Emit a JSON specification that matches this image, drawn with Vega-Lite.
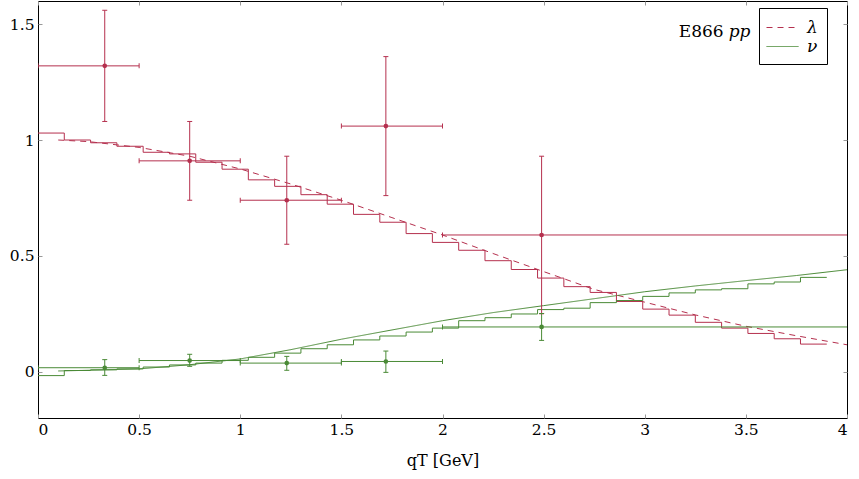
{
  "$schema": "https://vega.github.io/schema/vega-lite/v6.json",
  "width": 809,
  "height": 417,
  "autosize": {"type": "none"},
  "padding": {"left": 38, "top": 1, "right": 12, "bottom": 61},
  "config": {
    "view": {"stroke": "#000", "strokeWidth": 1},
    "font": "DejaVu Serif",
    "axis": {"grid": false, "domain": false, "tickColor": "#999", "tickSize": -4, "labelFont": "DejaVu Serif", "labelFontSize": 15.5, "labelColor": "#000", "titleFont": "DejaVu Serif", "titleFontSize": 16, "titleColor": "#000", "titleFontWeight": "normal"}
  },
  "datasets": {
    "hist": [
      {"series": "λ", "x": 0.00, "y": 1.030}, {"series": "λ", "x": 0.13, "y": 1.000}, {"series": "λ", "x": 0.26, "y": 0.988}, {"series": "λ", "x": 0.39, "y": 0.973}, {"series": "λ", "x": 0.52, "y": 0.947}, {"series": "λ", "x": 0.65, "y": 0.940}, {"series": "λ", "x": 0.78, "y": 0.904}, {"series": "λ", "x": 0.91, "y": 0.874}, {"series": "λ", "x": 1.04, "y": 0.828}, {"series": "λ", "x": 1.17, "y": 0.800}, {"series": "λ", "x": 1.30, "y": 0.764}, {"series": "λ", "x": 1.43, "y": 0.723}, {"series": "λ", "x": 1.56, "y": 0.679}, {"series": "λ", "x": 1.69, "y": 0.645}, {"series": "λ", "x": 1.82, "y": 0.596}, {"series": "λ", "x": 1.95, "y": 0.558}, {"series": "λ", "x": 2.08, "y": 0.524}, {"series": "λ", "x": 2.21, "y": 0.479}, {"series": "λ", "x": 2.34, "y": 0.441}, {"series": "λ", "x": 2.47, "y": 0.404}, {"series": "λ", "x": 2.60, "y": 0.367}, {"series": "λ", "x": 2.73, "y": 0.342}, {"series": "λ", "x": 2.86, "y": 0.303}, {"series": "λ", "x": 2.99, "y": 0.270}, {"series": "λ", "x": 3.12, "y": 0.244}, {"series": "λ", "x": 3.25, "y": 0.213}, {"series": "λ", "x": 3.38, "y": 0.188}, {"series": "λ", "x": 3.51, "y": 0.165}, {"series": "λ", "x": 3.64, "y": 0.142}, {"series": "λ", "x": 3.77, "y": 0.119}, {"series": "λ", "x": 3.90, "y": 0.119},
      {"series": "ν", "x": 0.00, "y": -0.017}, {"series": "ν", "x": 0.13, "y": 0.005}, {"series": "ν", "x": 0.26, "y": 0.008}, {"series": "ν", "x": 0.39, "y": 0.012}, {"series": "ν", "x": 0.52, "y": 0.020}, {"series": "ν", "x": 0.65, "y": 0.029}, {"series": "ν", "x": 0.78, "y": 0.037}, {"series": "ν", "x": 0.91, "y": 0.049}, {"series": "ν", "x": 1.04, "y": 0.062}, {"series": "ν", "x": 1.17, "y": 0.080}, {"series": "ν", "x": 1.30, "y": 0.099}, {"series": "ν", "x": 1.43, "y": 0.116}, {"series": "ν", "x": 1.56, "y": 0.137}, {"series": "ν", "x": 1.69, "y": 0.154}, {"series": "ν", "x": 1.82, "y": 0.171}, {"series": "ν", "x": 1.95, "y": 0.188}, {"series": "ν", "x": 2.08, "y": 0.220}, {"series": "ν", "x": 2.21, "y": 0.233}, {"series": "ν", "x": 2.34, "y": 0.249}, {"series": "ν", "x": 2.47, "y": 0.268}, {"series": "ν", "x": 2.60, "y": 0.274}, {"series": "ν", "x": 2.73, "y": 0.298}, {"series": "ν", "x": 2.86, "y": 0.307}, {"series": "ν", "x": 2.99, "y": 0.325}, {"series": "ν", "x": 3.12, "y": 0.340}, {"series": "ν", "x": 3.25, "y": 0.353}, {"series": "ν", "x": 3.38, "y": 0.358}, {"series": "ν", "x": 3.51, "y": 0.379}, {"series": "ν", "x": 3.64, "y": 0.387}, {"series": "ν", "x": 3.77, "y": 0.407}, {"series": "ν", "x": 3.90, "y": 0.407}
    ],
    "curves": [
      {"series": "λ", "x": 0.10, "y": 1.000}, {"series": "λ", "x": 0.25, "y": 0.993}, {"series": "λ", "x": 0.50, "y": 0.968}, {"series": "λ", "x": 0.75, "y": 0.930}, {"series": "λ", "x": 1.00, "y": 0.875}, {"series": "λ", "x": 1.25, "y": 0.810}, {"series": "λ", "x": 1.50, "y": 0.740}, {"series": "λ", "x": 1.75, "y": 0.665}, {"series": "λ", "x": 2.00, "y": 0.590}, {"series": "λ", "x": 2.25, "y": 0.510}, {"series": "λ", "x": 2.50, "y": 0.432}, {"series": "λ", "x": 2.75, "y": 0.355}, {"series": "λ", "x": 3.00, "y": 0.300}, {"series": "λ", "x": 3.25, "y": 0.245}, {"series": "λ", "x": 3.50, "y": 0.196}, {"series": "λ", "x": 3.75, "y": 0.155}, {"series": "λ", "x": 4.00, "y": 0.116},
      {"series": "ν", "x": 0.10, "y": 0.003}, {"series": "ν", "x": 0.25, "y": 0.006}, {"series": "ν", "x": 0.50, "y": 0.012}, {"series": "ν", "x": 0.75, "y": 0.030}, {"series": "ν", "x": 1.00, "y": 0.055}, {"series": "ν", "x": 1.25, "y": 0.095}, {"series": "ν", "x": 1.50, "y": 0.140}, {"series": "ν", "x": 1.75, "y": 0.180}, {"series": "ν", "x": 2.00, "y": 0.220}, {"series": "ν", "x": 2.25, "y": 0.255}, {"series": "ν", "x": 2.50, "y": 0.285}, {"series": "ν", "x": 2.75, "y": 0.315}, {"series": "ν", "x": 3.00, "y": 0.345}, {"series": "ν", "x": 3.25, "y": 0.370}, {"series": "ν", "x": 3.50, "y": 0.393}, {"series": "ν", "x": 3.75, "y": 0.415}, {"series": "ν", "x": 4.00, "y": 0.440}
    ],
    "points": [
      {"series": "λ", "x": 0.33, "y": 1.32, "xlo": 0.0, "xhi": 0.5, "ylo": 1.08, "yhi": 1.56},
      {"series": "λ", "x": 0.75, "y": 0.91, "xlo": 0.5, "xhi": 1.0, "ylo": 0.74, "yhi": 1.08},
      {"series": "λ", "x": 1.23, "y": 0.74, "xlo": 1.0, "xhi": 1.5, "ylo": 0.55, "yhi": 0.93},
      {"series": "λ", "x": 1.72, "y": 1.06, "xlo": 1.5, "xhi": 2.0, "ylo": 0.76, "yhi": 1.36},
      {"series": "λ", "x": 2.49, "y": 0.59, "xlo": 2.0, "xhi": 4.5, "ylo": 0.25, "yhi": 0.93},
      {"series": "ν", "x": 0.33, "y": 0.017, "xlo": 0.0, "xhi": 0.5, "ylo": -0.016, "yhi": 0.052},
      {"series": "ν", "x": 0.75, "y": 0.048, "xlo": 0.5, "xhi": 1.0, "ylo": 0.023, "yhi": 0.075},
      {"series": "ν", "x": 1.23, "y": 0.037, "xlo": 1.0, "xhi": 1.5, "ylo": 0.006, "yhi": 0.066},
      {"series": "ν", "x": 1.72, "y": 0.044, "xlo": 1.5, "xhi": 2.0, "ylo": -0.003, "yhi": 0.089},
      {"series": "ν", "x": 2.49, "y": 0.193, "xlo": 2.0, "xhi": 4.5, "ylo": 0.135, "yhi": 0.251}
    ]
  },
  "layer": [
    {
      "data": {"name": "curves"},
      "mark": {"type": "line", "strokeWidth": 1, "clip": true},
      "encoding": {
        "x": {"field": "x", "type": "quantitative", "scale": {"domain": [0, 4], "nice": false, "zero": false}, "axis": {"values": [0, 0.5, 1, 1.5, 2, 2.5, 3, 3.5, 4], "format": "~g", "labelPadding": 8, "title": "qT [GeV]", "titlePadding": 15}},
        "y": {"field": "y", "type": "quantitative", "scale": {"domain": [-0.2, 1.6], "nice": false, "zero": false}, "axis": {"values": [0, 0.5, 1, 1.5], "format": "~g", "labelPadding": 8, "title": null}},
        "color": {"field": "series", "type": "nominal", "scale": {"domain": ["λ", "ν"], "range": ["#b5304e", "#4a8a36"]},
          "legend": {"title": null, "orient": "none", "legendX": 721, "legendY": 7, "strokeColor": "#000", "fillColor": "#fff", "padding": 9, "symbolType": "M-1.6,0L1.6,0", "symbolSize": 400, "symbolStrokeWidth": 1, "symbolOffset": 4, "labelFont": "DejaVu Serif", "labelFontSize": 17, "labelFontStyle": "italic", "labelColor": "#000", "labelOffset": 14, "rowPadding": 0}},
        "strokeDash": {"field": "series", "type": "nominal", "scale": {"domain": ["λ", "ν"], "range": [[6, 5], [1, 0]]},
          "legend": {"title": null, "orient": "none", "legendX": 721, "legendY": 7, "strokeColor": "#000", "fillColor": "#fff", "padding": 9, "symbolType": "M-1.6,0L1.6,0", "symbolSize": 400, "symbolStrokeWidth": 1, "symbolOffset": 4, "labelFont": "DejaVu Serif", "labelFontSize": 17, "labelFontStyle": "italic", "labelColor": "#000", "labelOffset": 14, "rowPadding": 0}}
      }
    },
    {
      "data": {"name": "hist"},
      "mark": {"type": "line", "interpolate": "step-after", "strokeWidth": 1, "clip": true},
      "encoding": {
        "x": {"field": "x", "type": "quantitative", "axis": null},
        "y": {"field": "y", "type": "quantitative", "axis": null},
        "detail": {"field": "series"},
        "stroke": {"condition": {"test": "datum.series === 'λ'", "value": "#b5304e"}, "value": "#4a8a36"}
      }
    },
    {
      "data": {"name": "points"},
      "mark": {"type": "rule", "strokeWidth": 1, "clip": true},
      "encoding": {
        "x": {"field": "xlo", "type": "quantitative", "axis": null},
        "x2": {"field": "xhi"},
        "y": {"field": "y", "type": "quantitative", "axis": null},
        "stroke": {"condition": {"test": "datum.series === 'λ'", "value": "#b5304e"}, "value": "#4a8a36"}
      }
    },
    {
      "data": {"name": "points"},
      "mark": {"type": "rule", "strokeWidth": 1, "clip": true},
      "encoding": {
        "x": {"field": "x", "type": "quantitative", "axis": null},
        "y": {"field": "ylo", "type": "quantitative", "axis": null},
        "y2": {"field": "yhi"},
        "stroke": {"condition": {"test": "datum.series === 'λ'", "value": "#b5304e"}, "value": "#4a8a36"}
      }
    },
    {
      "data": {"name": "points"},
      "transform": [{"fold": ["ylo", "yhi"], "as": ["end", "yend"]}],
      "mark": {"type": "tick", "orient": "horizontal", "size": 5, "thickness": 1, "clip": true, "opacity": 1},
      "encoding": {
        "x": {"field": "x", "type": "quantitative", "axis": null},
        "y": {"field": "yend", "type": "quantitative", "axis": null},
        "fill": {"condition": {"test": "datum.series === 'λ'", "value": "#b5304e"}, "value": "#4a8a36"}
      }
    },
    {
      "data": {"name": "points"},
      "transform": [{"fold": ["xlo", "xhi"], "as": ["end", "xend"]}],
      "mark": {"type": "tick", "orient": "vertical", "size": 5, "thickness": 1, "clip": true, "opacity": 1},
      "encoding": {
        "x": {"field": "xend", "type": "quantitative", "axis": null},
        "y": {"field": "y", "type": "quantitative", "axis": null},
        "fill": {"condition": {"test": "datum.series === 'λ'", "value": "#b5304e"}, "value": "#4a8a36"}
      }
    },
    {
      "data": {"name": "points"},
      "mark": {"type": "circle", "size": 22, "opacity": 1},
      "encoding": {
        "x": {"field": "x", "type": "quantitative", "axis": {"orient": "top", "values": [0, 0.5, 1, 1.5, 2, 2.5, 3, 3.5, 4], "labels": false, "title": null}},
        "y": {"field": "y", "type": "quantitative", "axis": {"orient": "right", "values": [0, 0.5, 1, 1.5], "labels": false, "title": null}},
        "fill": {"condition": {"test": "datum.series === 'λ'", "value": "#b5304e"}, "value": "#4a8a36"}
      }
    },
    {
      "data": {"values": [{"label": "E866"}]},
      "mark": {"type": "text", "align": "right", "baseline": "alphabetic", "fontSize": 17, "font": "DejaVu Serif", "color": "#000"},
      "encoding": {
        "x": {"datum": 3.39, "type": "quantitative", "axis": null},
        "y": {"datum": 1.445, "type": "quantitative", "axis": null},
        "text": {"field": "label"}
      }
    },
    {
      "data": {"values": [{"label": "pp"}]},
      "mark": {"type": "text", "align": "left", "baseline": "alphabetic", "fontSize": 17, "font": "DejaVu Serif", "fontStyle": "italic", "color": "#000"},
      "encoding": {
        "x": {"datum": 3.415, "type": "quantitative", "axis": null},
        "y": {"datum": 1.445, "type": "quantitative", "axis": null},
        "text": {"field": "label"}
      }
    }
  ],
  "resolve": {"axis": {"x": "independent", "y": "independent"}}
}
